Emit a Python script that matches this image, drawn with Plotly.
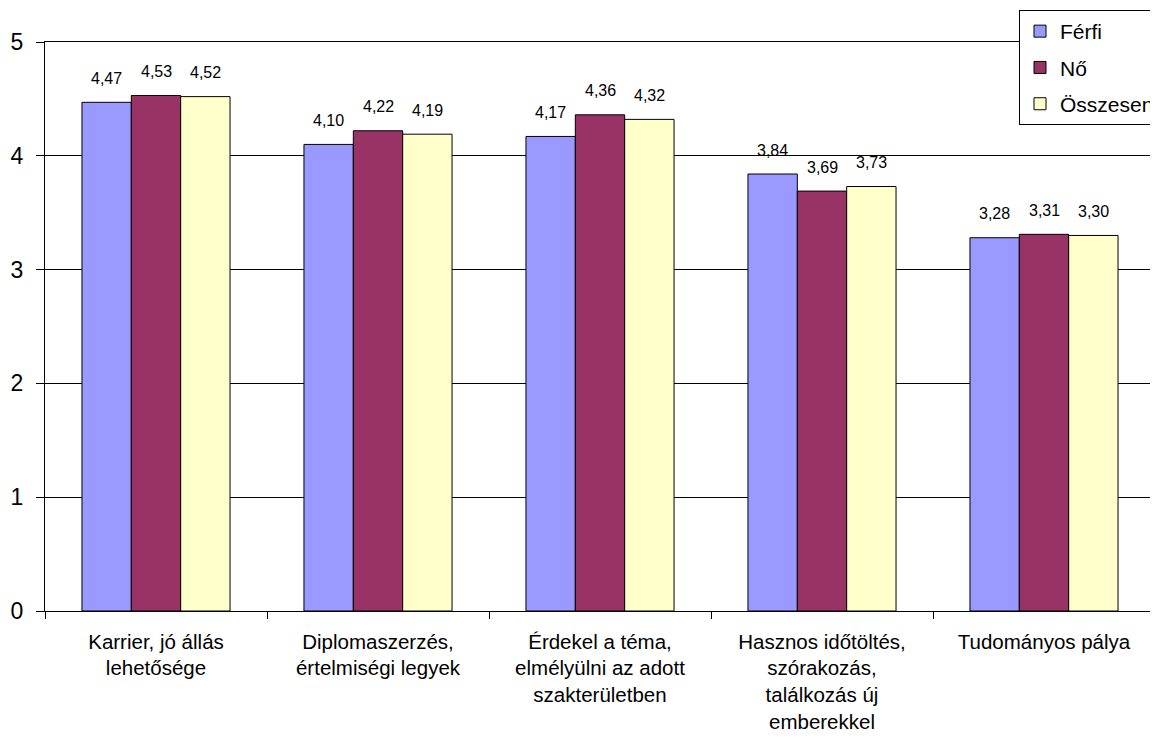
import plotly.graph_objects as go

categories = [
    "Karrier, jó állás<br>lehetősége",
    "Diplomaszerzés,<br>értelmiségi legyek",
    "Érdekel a téma,<br>elmélyülni az adott<br>szakterületben",
    "Hasznos időtöltés,<br>szórakozás,<br>találkozás új<br>emberekkel",
    "Tudományos pálya",
]
ferfi = [4.47, 4.10, 4.17, 3.84, 3.28]
no = [4.53, 4.22, 4.36, 3.69, 3.31]
osszesen = [4.52, 4.19, 4.32, 3.73, 3.30]
series_names = ["Férfi", "Nő", "Összesen"]
series_colors = ["#9999FF", "#993366", "#FFFFCC"]
y_ticks = [0, 1, 2, 3, 4, 5]

FONT = "Liberation Sans, Arial, sans-serif"
# page body has an 8px default margin; figure sized to fit the window
W, H = 1150, 730
ML, MR, MT, MB = 37, 3, 34, 127
plot_w = W - ML - MR
plot_h = H - MT - MB
bargap = 0.333
bar_px = plot_w / len(categories) * (1 - bargap) / 3

fig = go.Figure()
series = [ferfi, no, osszesen]
for i, (name, vals, col) in enumerate(zip(series_names, series, series_colors)):
    fig.add_trace(go.Bar(
        x=categories, y=vals, name=name, legendgroup=name,
        marker=dict(color=col, line=dict(color="black", width=1)),
        hoverinfo="x+y",
    ))
    for c, v in zip(categories, vals):
        fig.add_annotation(
            x=c, y=v, xref="x", yref="y",
            text=f"{v:.2f}".replace(".", ","),
            showarrow=False, yanchor="middle", xanchor="center",
            xshift=(i - 1) * bar_px, yshift=24,
            font=dict(family=FONT, size=16, color="black"),
        )

fig.update_layout(
    width=W, height=H,
    margin=dict(l=ML, r=MR, t=MT, b=MB, autoexpand=False),
    paper_bgcolor="white", plot_bgcolor="white",
    barmode="group", bargap=bargap, bargroupgap=0,
    font=dict(family=FONT, color="black"),
    legend=dict(
        x=(1011 - ML) / plot_w, y=1 + (MT - 2) / plot_h,
        xanchor="left", yanchor="top",
        bordercolor="black", borderwidth=1, bgcolor="white",
        font=dict(family=FONT, size=21, color="black"),
        traceorder="grouped", tracegroupgap=6,
    ),
    showlegend=True,
)
fig.update_xaxes(
    showline=True, linecolor="black", linewidth=1, mirror=True,
    ticks="outside", tickson="boundaries", ticklen=7, tickcolor="black",
    ticklabelstandoff=12,
    tickfont=dict(family=FONT, size=20.5, color="black"),
    showgrid=False,
)
fig.update_yaxes(
    range=[0, 5], tickvals=y_ticks,
    showline=True, linecolor="black", linewidth=1, mirror=True,
    ticks="outside", ticklen=8, tickcolor="black",
    ticklabelstandoff=8,
    tickfont=dict(family=FONT, size=23, color="black"),
    showgrid=True, gridcolor="black", gridwidth=1,
    zeroline=False,
)

fig.write_html("out.html")
